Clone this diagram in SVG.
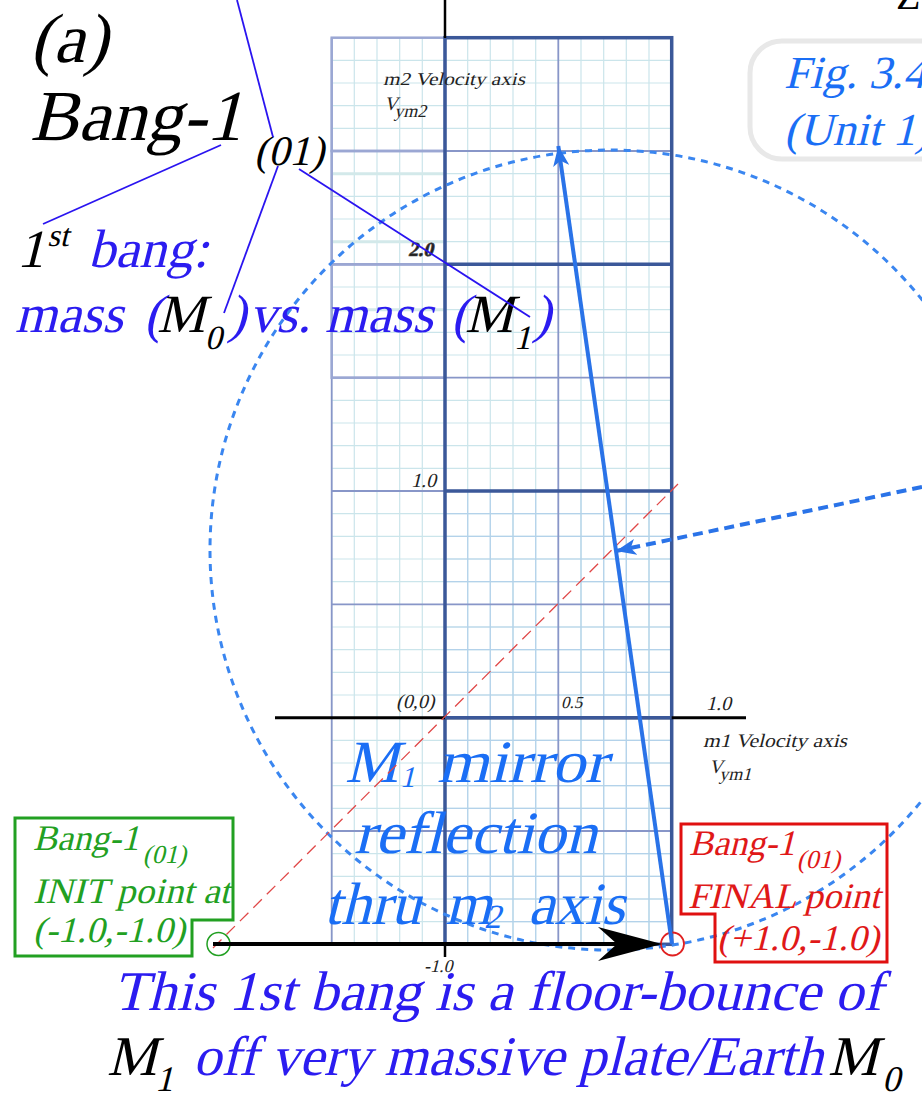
<svg xmlns="http://www.w3.org/2000/svg" width="922" height="1094" viewBox="0 0 922 1094">
<style>
text{font-family:'Liberation Serif','Times New Roman',serif;font-style:normal}
.blk{fill:#000}
.blu{fill:#2b1cf0}
.sky{fill:#1a6ef5}
.grn{fill:#22a022}
.red{fill:#e01818}
.sm{fill:#222;font-size:20px}
.minor{stroke:#cbe5eb;stroke-width:1.2;fill:none}
.minor2{stroke:#b3d2ea;stroke-width:1.2;fill:none}
.major{stroke:#8896c8;stroke-width:1.8;fill:none}
.lbox{stroke:#9ba7d3;stroke-width:2.5;fill:none}
.dark{stroke:#3b5899;stroke-width:3.5;fill:none}
.lead{stroke:#2a14f0;stroke-width:1.8;fill:none}
</style>
<defs>
<marker id="ahBlue" viewBox="0 0 20 16" refX="20" refY="8" markerWidth="20" markerHeight="16" markerUnits="userSpaceOnUse" orient="auto">
<path d="M0,0 L20,8 L0,16 L5,8 z" fill="#2a73e8"/>
</marker>
</defs>
<rect width="922" height="1094" fill="#fff"/>

<g id="grid">
<path class="minor" d="M331.7 37.7V944.3M354.3 37.7V944.3M377 37.7V944.3M399.7 37.7V944.3M422.3 37.7V944.3M467.7 37.7V944.3M490.3 37.7V944.3M513 37.7V944.3M535.7 37.7V944.3M581 37.7V944.3M603.7 37.7V944.3M626.3 37.7V944.3M649 37.7V944.3
M331.7 60.3H671.7M331.7 83H671.7M331.7 105.7H671.7M331.7 128.3H671.7M331.7 173.7H671.7M331.7 196.3H671.7M331.7 219H671.7M331.7 241.7H671.7M331.7 287H671.7M331.7 309.7H671.7M331.7 332.3H671.7M331.7 355H671.7M331.7 400.3H671.7M331.7 423H671.7M331.7 445.7H671.7M331.7 468.3H671.7M331.7 513.7H671.7M331.7 536.3H671.7M331.7 559H671.7M331.7 581.7H671.7M331.7 627H671.7M331.7 649.7H671.7M331.7 672.3H671.7M331.7 695H671.7M331.7 740.3H671.7M331.7 763H671.7M331.7 785.7H671.7M331.7 808.3H671.7M331.7 853.7H671.7M331.7 876.3H671.7M331.7 899H671.7M331.7 921.7H671.7"/>
<path class="minor2" d="M467.7 491V944.3M490.3 491V944.3M513 491V944.3M535.7 491V944.3M581 491V944.3M603.7 491V944.3M626.3 491V944.3M649 491V944.3
M445 513.7H671.7M445 536.3H671.7M445 559H671.7M445 581.7H671.7M445 627H671.7M445 649.7H671.7M445 672.3H671.7M445 695H671.7M445 740.3H671.7M445 763H671.7M445 785.7H671.7M445 808.3H671.7M445 853.7H671.7M445 876.3H671.7M445 899H671.7M445 921.7H671.7"/>
<path d="M331.7 173.7H445M331.7 241.7H445M331.7 309.7H445" stroke="#d3e9ea" stroke-width="3" fill="none"/>
<path class="major" d="M331.7 37.7V944.3M558.3 37.7V944.3M331.7 151H671.7M331.7 377.7H671.7M331.7 604.3H671.7M331.7 831H671.7M331.7 264.3H445M331.7 491H445M331.7 944.3H445"/>
<rect class="lbox" x="331.7" y="37.7" width="113.3" height="113.3"/>
<rect class="lbox" x="331.7" y="151" width="113.3" height="113.3"/>
<rect class="lbox" x="331.7" y="264.3" width="113.3" height="113.4" stroke-width="3"/>
<rect class="dark" x="445" y="37.7" width="226.7" height="906.6"/>
<path class="dark" d="M445 264.3H671.7M445 491H671.7"/>
</g>

<g id="axes">
<line x1="445" y1="0" x2="445" y2="38" stroke="#000" stroke-width="2.5"/>
<line x1="275" y1="717.7" x2="746" y2="717.7" stroke="#000" stroke-width="3"/>
<line x1="445" y1="717.7" x2="671.7" y2="717.7" stroke="#3b5899" stroke-width="3.5"/>
<line x1="445" y1="944" x2="445" y2="957" stroke="#000" stroke-width="2.5"/>
</g>

<g id="circle">
<circle cx="610" cy="550" r="400" fill="none" stroke="#3a86f0" stroke-width="3" stroke-dasharray="7 6"/>
</g>

<g id="labels">
<text class="sm" x="383" y="85" transform="matrix(1 0 -0.25 1 21.25 0)" textLength="142" lengthAdjust="spacingAndGlyphs" style="font-size:18px">m2 Velocity axis</text>
<text class="sm" x="384" y="110" transform="matrix(1 0 -0.25 1 27.5 0)" style="font-size:19px">V<tspan x="396" y="117" style="font-size:18px">ym2</tspan></text>
<text x="408" y="256" transform="matrix(1 0 -0.25 1 64 0)" style="font-size:20px;font-weight:bold" fill="#222" stroke="#444" stroke-width="0.6">2.0</text>
<text class="sm" x="411" y="487" transform="matrix(1 0 -0.25 1 121.75 0)">1.0</text>
<text class="sm" x="396" y="708" transform="matrix(1 0 -0.25 1 177 0)">(0,0)</text>
<text class="sm" x="561" y="708" transform="matrix(1 0 -0.25 1 177 0)" style="font-size:17px">0.5</text>
<text class="sm" x="706" y="710" transform="matrix(1 0 -0.25 1 177.5 0)">1.0</text>
<text class="sm" x="703" y="747" transform="matrix(1 0 -0.25 1 186.75 0)" textLength="144" lengthAdjust="spacingAndGlyphs" style="font-size:19px">m1 Velocity axis</text>
<text class="sm" x="709" y="773" transform="matrix(1 0 -0.25 1 193.25 0)" style="font-size:19px">V<tspan x="721" y="780" style="font-size:18px">ym1</tspan></text>
<text class="sm" x="424" y="972" transform="matrix(1 0 -0.25 1 243 0)" style="font-size:18px">-1.0</text>
</g>

<g id="title">
<text class="blk" x="30" y="62" transform="matrix(1 0 -0.25 1 15.5 0)" style="font-size:70px">(a)</text>
<text class="blk" x="30" y="140" transform="matrix(1 0 -0.25 1 35 0)" style="font-size:72px" textLength="212" lengthAdjust="spacingAndGlyphs">Bang-1</text>
<text class="blk" x="254" y="165" transform="matrix(1 0 -0.25 1 41.25 0)" style="font-size:42px">(01)</text>
</g>

<g id="first-bang">
<text transform="matrix(1 0 -0.25 1 66.75 0)" style="font-size:54px"><tspan class="blk" x="17" y="267">1</tspan><tspan class="blk" x="42" y="246" style="font-size:32px">st</tspan><tspan class="blu" x="88" y="267">bang:</tspan></text>
<text transform="matrix(1 0 -0.25 1 83 0)" style="font-size:54px"><tspan class="blu" x="15" y="332">mass</tspan><tspan class="blu" x="144" y="332">(</tspan><tspan class="blk" x="157" y="332">M</tspan><tspan class="blk" x="209" y="349" style="font-size:34px">0</tspan><tspan class="blu" x="228" y="332">)</tspan><tspan class="blu" x="249" y="332">vs.</tspan><tspan class="blu" x="325" y="332">mass</tspan><tspan class="blu" x="451" y="332">(</tspan><tspan class="blk" x="465" y="332">M</tspan><tspan class="blk" x="518" y="349" style="font-size:34px">1</tspan><tspan class="blu" x="533" y="332">)</tspan></text>
</g>

<g id="fig-label">
<rect x="750" y="41" width="230" height="118" rx="32" fill="none" stroke="#e8e8e8" stroke-width="5"/>
<text class="sky" x="784" y="88" transform="matrix(1 0 -0.25 1 22 0)" style="font-size:46px">Fig. 3.4</text>
<text class="sky" x="784" y="145" transform="matrix(1 0 -0.25 1 36.25 0)" style="font-size:46px">(Unit 1)</text>
<text class="blk" x="896" y="9" style="font-size:40px">Z</text>
</g>

<g id="mirror-label">
<text class="sky" transform="matrix(1 0 -0.25 1 195.5 0)" style="font-size:60px"><tspan x="345" y="782">M</tspan><tspan x="401" y="787" style="font-size:30px">1</tspan><tspan x="437" y="782" textLength="170" lengthAdjust="spacingAndGlyphs">mirror</tspan></text>
<text class="sky" x="354" y="853" transform="matrix(1 0 -0.25 1 213.25 0)" style="font-size:60px" textLength="243" lengthAdjust="spacingAndGlyphs">reflection</text>
<text class="sky" transform="matrix(1 0 -0.25 1 231 0)" style="font-size:60px"><tspan x="324" y="924">thru</tspan><tspan x="445" y="924">m</tspan><tspan x="485" y="928" style="font-size:34px">2</tspan><tspan x="528" y="924">axis</tspan></text>
</g>

<g id="init-point">
<path d="M15 818H233V920H192V956H15Z" fill="none" stroke="#22a022" stroke-width="3"/>
<text class="grn" transform="matrix(1 0 -0.25 1 212.5 0)" style="font-size:36px"><tspan x="33" y="850">Bang-1</tspan><tspan x="146" y="863" style="font-size:26px">(01)</tspan></text>
<text class="grn" x="33" y="903" transform="matrix(1 0 -0.25 1 225.75 0)" style="font-size:36px" textLength="197" lengthAdjust="spacingAndGlyphs">INIT point at</text>
<text class="grn" x="33" y="942" transform="matrix(1 0 -0.25 1 235.5 0)" style="font-size:36px" textLength="152" lengthAdjust="spacingAndGlyphs">(-1.0,-1.0)</text>
<circle cx="218.5" cy="944" r="11.5" fill="none" stroke="#22a022" stroke-width="1.5"/>
</g>

<g id="final-point">
<path d="M681 824H887V962H715V914H681Z" fill="none" stroke="#e01010" stroke-width="3"/>
<text class="red" transform="matrix(1 0 -0.25 1 213.75 0)" style="font-size:36px"><tspan x="689" y="855">Bang-1</tspan><tspan x="800" y="868" style="font-size:26px">(01)</tspan></text>
<text class="red" x="688" y="908" transform="matrix(1 0 -0.25 1 227 0)" style="font-size:36px" textLength="192" lengthAdjust="spacingAndGlyphs">FINAL point</text>
<text class="red" x="717" y="950" transform="matrix(1 0 -0.25 1 237.5 0)" style="font-size:36px" textLength="162" lengthAdjust="spacingAndGlyphs">(+1.0,-1.0)</text>
<circle cx="672.5" cy="944" r="11.5" fill="none" stroke="#e02020" stroke-width="1.8"/>
</g>

<g id="connectors">
<line x1="213" y1="948" x2="678" y2="484" stroke="#e04848" stroke-width="1.3" stroke-dasharray="12 7"/>
<line x1="672" y1="944" x2="558.3" y2="146" stroke="#2a73e8" stroke-width="4" marker-end="url(#ahBlue)"/>
<line x1="922" y1="487" x2="616" y2="551" stroke="#2a73e8" stroke-width="4" stroke-dasharray="10 6" marker-end="url(#ahBlue)"/>
<line x1="213" y1="944" x2="620" y2="944" stroke="#000" stroke-width="4"/>
<path d="M662 944L598 927L617 944L598 961Z" fill="#000"/>
<line class="lead" x1="237" y1="0" x2="273" y2="137"/>
<line class="lead" x1="221" y1="145" x2="43" y2="224" stroke-width="3.5"/>
<line class="lead" x1="278" y1="166" x2="224" y2="313"/>
<line class="lead" x1="299" y1="169" x2="530" y2="317"/>
</g>

<g id="caption">
<text class="blu" x="113" y="1010" transform="matrix(1 0 -0.25 1 252.5 0)" style="font-size:56px" textLength="769" lengthAdjust="spacingAndGlyphs">This 1st bang is a floor-bounce of</text>
<text transform="matrix(1 0 -0.25 1 268.75 0)" style="font-size:56px"><tspan class="blk" x="107" y="1075">M</tspan><tspan class="blk" x="159" y="1091" style="font-size:36px">1</tspan></text>
<text class="blu" x="193" y="1075" transform="matrix(1 0 -0.25 1 268.75 0)" style="font-size:56px" textLength="630" lengthAdjust="spacingAndGlyphs">off very massive plate/Earth</text>
<text transform="matrix(1 0 -0.25 1 268.75 0)" style="font-size:56px"><tspan class="blk" x="828" y="1075">M</tspan><tspan class="blk" x="886" y="1091" style="font-size:36px">0</tspan></text>
</g>
</svg>
